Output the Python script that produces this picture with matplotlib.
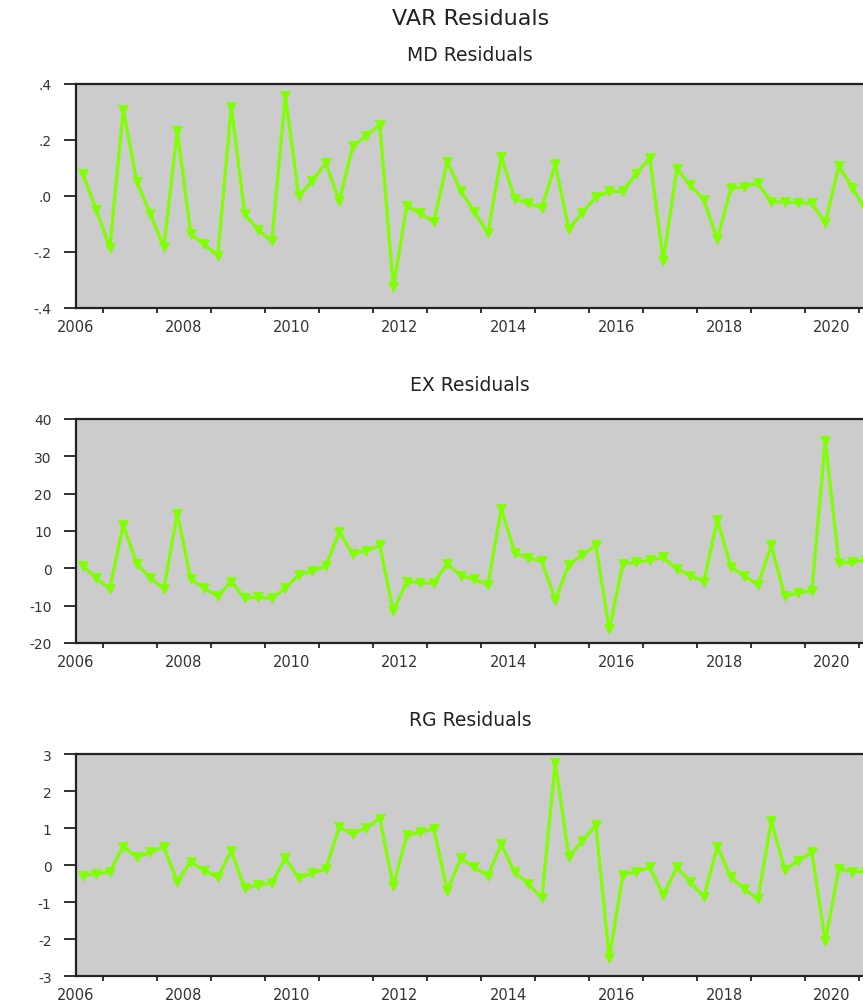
import matplotlib
matplotlib.use("Agg")
import matplotlib.pyplot as plt
import pandas as pd

# Reszty VAR, dane kwartalne 2006Q3 - 2021Q1
start_quarter = "2006Q3"
end_quarter = "2021Q1"

md_resid = [0.08, -0.05, -0.185, 0.307, 0.05, -0.063, -0.183, 0.233, -0.137, -0.173,
            -0.215, 0.319, -0.066, -0.122, -0.161, 0.356, 0.0, 0.054, 0.117, -0.018,
            0.177, 0.215, 0.254, -0.326, -0.036, -0.062, -0.092, 0.122, 0.018, -0.056,
            -0.134, 0.14, -0.01, -0.027, -0.042, 0.113, -0.119, -0.06, -0.004, 0.016,
            0.016, 0.08, 0.135, -0.233, 0.096, 0.039, -0.016, -0.155, 0.027, 0.033,
            0.045, -0.021, -0.021, -0.024, -0.027, -0.096, 0.107, 0.03, -0.051]

ex_resid = [0.7, -2.7, -5.5, 11.6, 1.2, -2.6, -5.5, 14.6, -2.9, -5.3,
            -7.5, -3.6, -8.0, -7.8, -8.0, -5.4, -1.7, -0.8, 0.5, 9.8,
            3.8, 4.7, 6.1, -11.5, -3.6, -3.9, -4.0, 1.2, -2.0, -3.0,
            -4.5, 15.9, 4.1, 2.7, 1.9, -8.4, 0.9, 3.6, 6.1, -16.4,
            1.2, 1.6, 2.2, 2.9, -0.2, -2.0, -3.6, 13.0, 0.4, -2.0,
            -4.5, 6.1, -7.5, -6.6, -6.0, 34.2, 1.4, 1.6, 2.3]

rg_resid = [-0.29, -0.24, -0.18, 0.5, 0.21, 0.34, 0.5, -0.45, 0.09, -0.15,
            -0.33, 0.38, -0.63, -0.54, -0.48, 0.18, -0.36, -0.22, -0.11, 1.03,
            0.83, 1.01, 1.25, -0.57, 0.81, 0.88, 0.98, -0.69, 0.18, -0.06,
            -0.29, 0.56, -0.2, -0.51, -0.9, 2.76, 0.23, 0.65, 1.08, -2.52,
            -0.27, -0.18, -0.06, -0.81, -0.06, -0.45, -0.87, 0.5, -0.33, -0.64,
            -0.93, 1.19, -0.13, 0.12, 0.34, -2.06, -0.11, -0.18, -0.18]

md_ticks = [-0.4, -0.2, 0.0, 0.2, 0.4]
md_labels = ["-.4", "-.2", ".0", ".2", ".4"]
ex_ticks = [-20, -10, 0, 10, 20, 30, 40]
ex_labels = ["-20", "-10", "0", "10", "20", "30", "40"]
rg_ticks = [-3, -2, -1, 0, 1, 2, 3]
rg_labels = ["-3", "-2", "-1", "0", "1", "2", "3"]

year_labels = [2006, 2008, 2010, 2012, 2014, 2016, 2018, 2020]

# Oś czasu: środek kwartału w latach dziesiętnych
periods = pd.period_range(start_quarter, end_quarter, freq="Q")
t = periods.year + (periods.quarter - 0.5) / 4

plt.rcParams["font.family"] = "DejaVu Sans"
text_color = "#333333"
green = "#7FFF00"

fig = plt.figure(figsize=(8.63, 10.03), dpi=100)

panels = [
    ("MD Residuals", md_resid, md_ticks, md_labels, 0.692, 0.2233, 0.945),
    ("EX Residuals", ex_resid, ex_ticks, ex_labels, 0.358, 0.2233, 0.616),
    ("RG Residuals", rg_resid, rg_ticks, rg_labels, 0.0259, 0.2213, 0.282),
]

for name, values, yt, yl, bottom, height, title_y in panels:
    ax = fig.add_axes([0.0881, bottom, 0.923, height])
    ax.set_facecolor("#CCCCCC")
    ax.plot(t, values, color=green, lw=2.3, marker="v", ms=6.5,
            markeredgewidth=0.5, markeredgecolor=green)
    ax.set_xlim(2006.5, 2021.25)
    ax.set_ylim(yt[0], yt[-1])

    # pionowe kreski na początku każdego roku, etykiety w środku roku
    ax.set_xticks(range(2007, 2022))
    ax.set_xticklabels([])
    ax.set_xticks([y + 0.5 for y in year_labels], minor=True)
    ax.set_xticklabels([str(y) for y in year_labels], minor=True)
    ax.tick_params(axis="x", which="major", direction="out", length=3.8,
                   width=1.3, color="#222222", top=False)
    ax.tick_params(axis="x", which="minor", length=0, pad=8,
                   labelsize=10.5, labelcolor=text_color)

    ax.set_yticks(yt)
    ax.set_yticklabels(yl)
    ax.tick_params(axis="y", direction="out", length=8.6, width=1.3,
                   color="#222222", pad=9, labelsize=10, labelcolor=text_color)

    for side in ["left", "bottom", "top", "right"]:
        ax.spines[side].set_color("#222222")
        ax.spines[side].set_linewidth(1.6)

    fig.text(0.545, title_y, name, ha="center", va="center",
             fontsize=13.5, color="#222222")

fig.text(0.545, 0.981, "VAR Residuals", ha="center", va="center",
         fontsize=16, color="#222222")

fig.savefig("out.png", dpi=100)
